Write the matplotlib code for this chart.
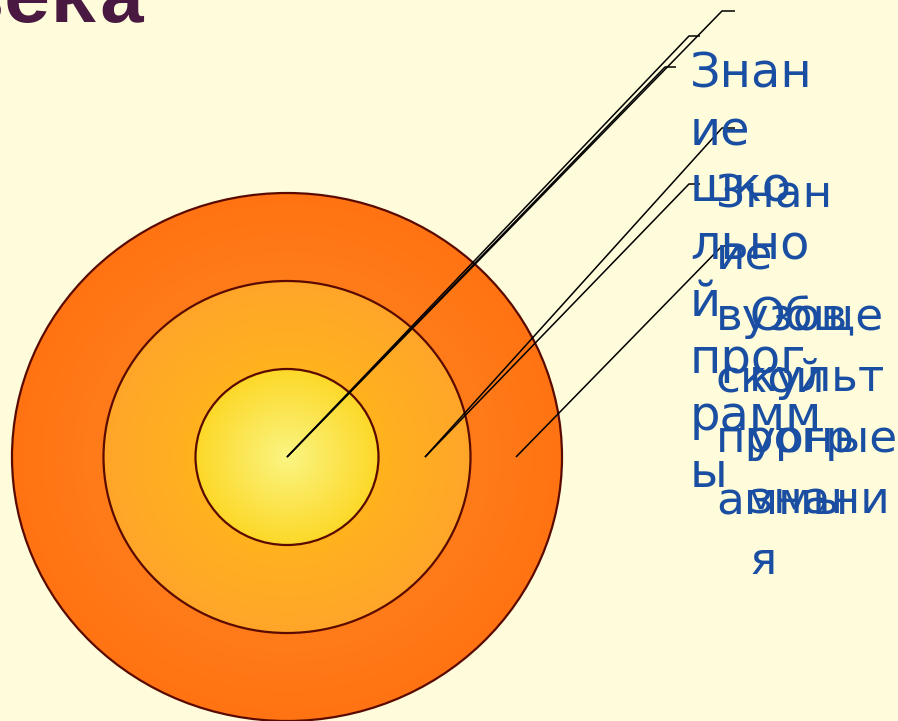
import numpy as np
import matplotlib

matplotlib.use("Agg")
import matplotlib.pyplot as plt
from matplotlib.patches import Ellipse
from matplotlib.colors import to_rgb

# three nested rings: (half width, half height, centre colour, edge colour)
ring_rx = [275, 183.5, 91.5]
ring_ry = [264, 176, 88]
ring_inner = ["#FF8E2C", "#FFBE12", "#FAF582"]
ring_outer = ["#FF7312", "#FFA62A", "#FDD828"]

# callout labels, already broken the way the slide wraps them
label_school = ["Знан", "ие", "шко", "льно", "й", "прог", "рамм", "ы"]
label_uni = ["Знан", "ие", "вузов", "ской", "прогр", "аммы"]
label_general = ["Обще", "культ", "урные", "знани", "я"]

title = "века"

BG = "#FEFCDA"
TEXT_BLUE = "#1A4EA2"
EDGE = "#5A0A00"

W, H = 898, 721
fig = plt.figure(figsize=(W / 100, H / 100), dpi=100, facecolor=BG)
ax = fig.add_axes([0, 0, 1, 1])
ax.set_facecolor(BG)
ax.axis("off")

cx, cy = 287, 457


def radial_fill(rx, ry, c0, c1, z):
    xs = np.linspace(cx - rx, cx + rx, 400)
    ys = np.linspace(cy - ry, cy + ry, 400)
    X, Y = np.meshgrid(xs, ys)
    r = np.clip(np.sqrt(((X - cx) / rx) ** 2 + ((Y - cy) / ry) ** 2), 0, 1)
    a, b = np.array(to_rgb(c0)), np.array(to_rgb(c1))
    img = a[None, None, :] * (1 - r[..., None]) + b[None, None, :] * r[..., None]
    ell = Ellipse((cx, cy), 2 * rx, 2 * ry, facecolor="none", edgecolor=EDGE, lw=1.6, zorder=z + 0.5)
    ax.add_patch(ell)
    im = ax.imshow(img, extent=(cx - rx, cx + rx, cy + ry, cy - ry), zorder=z, interpolation="bilinear")
    im.set_clip_path(ell)


for i in range(3):
    radial_fill(ring_rx[i], ring_ry[i], ring_inner[i], ring_outer[i], 1 + i)

ax.set_xlim(0, W)
ax.set_ylim(H, 0)

# leader lines
leaders = [
    ((287, 457), (722, 11), (735, 11)),
    ((287, 457), (689, 36), (700, 36)),
    ((287, 457), (665, 67), (676, 67)),
    ((425, 457), (722, 128), (735, 128)),
    ((425, 457), (689, 184), (700, 184)),
    ((516, 457), (722, 246), (735, 246)),
]
for pts in leaders:
    xs, ys = zip(*pts)
    ax.plot(xs, ys, color="black", lw=1.1, zorder=6, solid_capstyle="butt")


def stacked(lines, x0, y0, step, size):
    for i, s in enumerate(lines):
        ax.text(x0, y0 + i * step, s, fontsize=size, color=TEXT_BLUE,
                family="DejaVu Sans", va="baseline", ha="left", zorder=7)


stacked(label_school, 690, 88, 57, 34.5)
stacked(label_uni, 716, 208, 61, 32.7)
stacked(label_general, 749, 330, 61, 32.7)

# slide title, mostly off the top-left edge
ax.text(52, 22, title, fontsize=57, color="#4A1942", family="Liberation Mono",
        fontweight="bold", ha="center", va="baseline", zorder=7)

fig.savefig("out.png", dpi=100, facecolor=BG)
